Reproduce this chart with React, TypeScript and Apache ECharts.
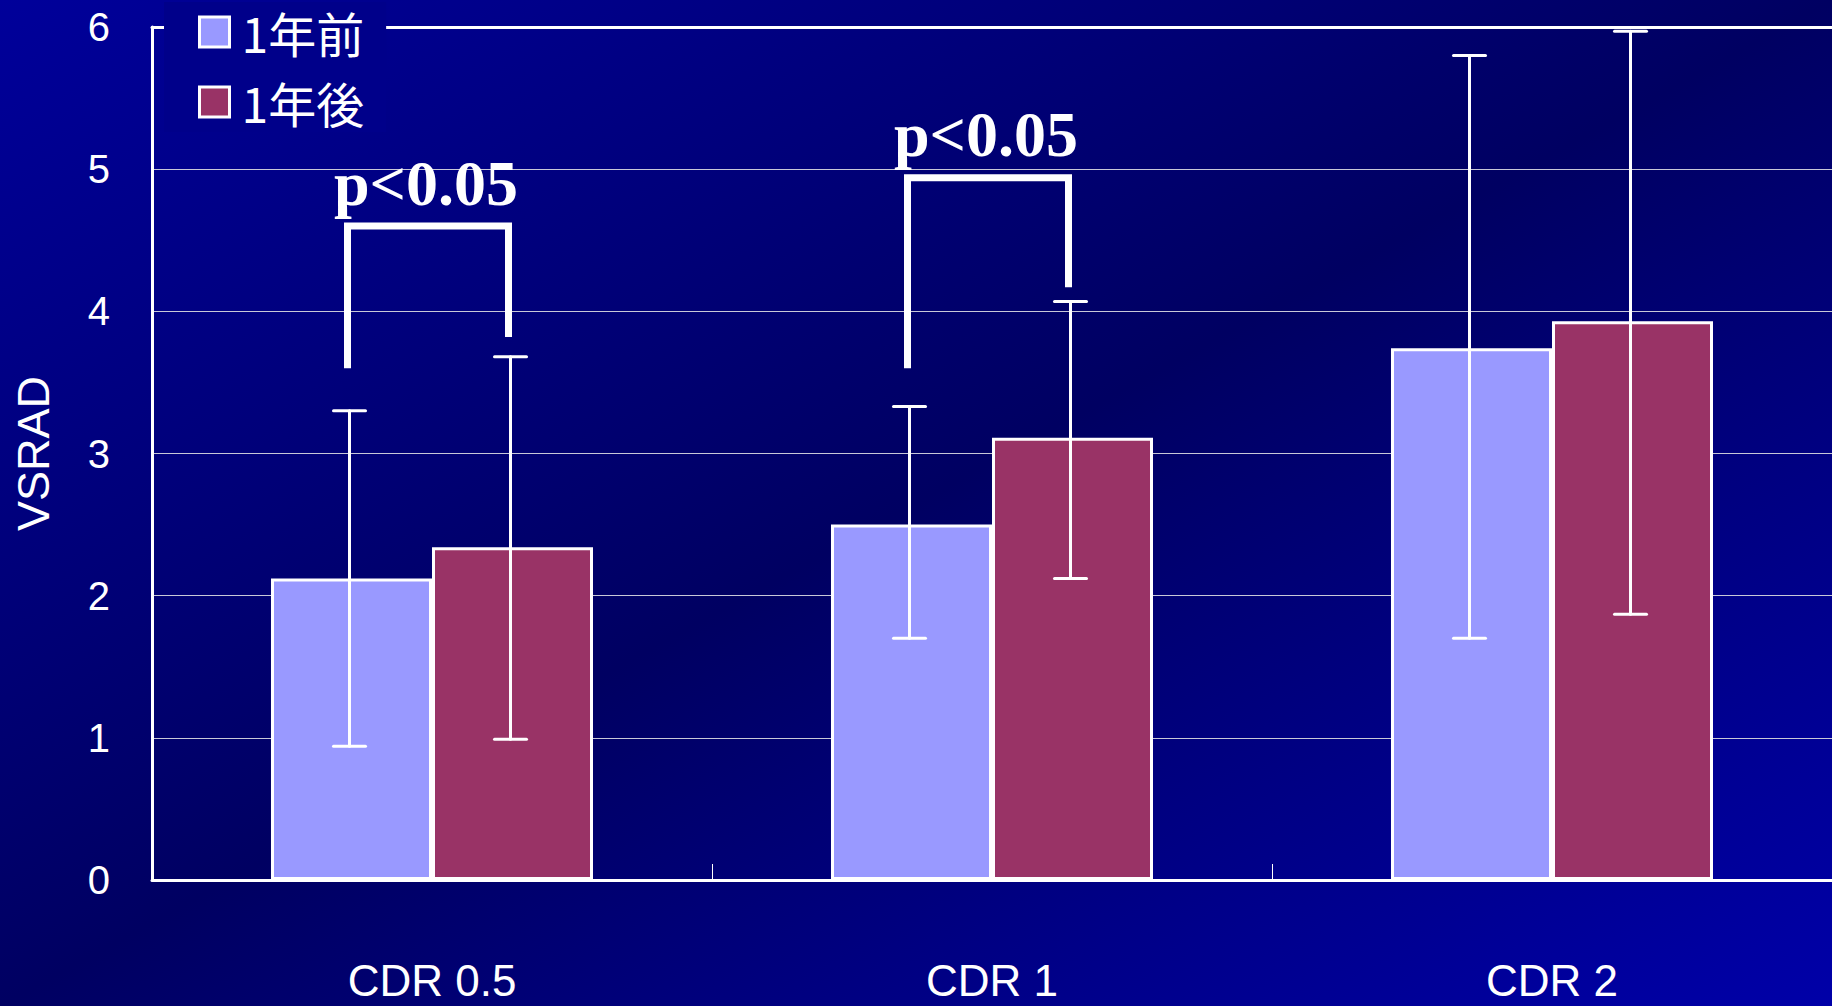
import React, { useEffect, useRef } from "react";
import * as echarts from "echarts";

const categories = ["CDR 0.5", "CDR 1", "CDR 2"];
const seriesNames = ["1年前", "1年後"];
const beforeMean = [2.12, 2.5, 3.74];
const afterMean = [2.34, 3.11, 3.93];
const beforeLow = [0.94, 1.7, 1.7];
const beforeHigh = [3.3, 3.33, 5.8];
const afterLow = [0.99, 2.12, 1.87];
const afterHigh = [3.68, 4.07, 5.97];
const yTicks = { min: 0, max: 6, interval: 1 };
// significance brackets: category index, left leg bottom, right leg bottom, top
const sigCategory = [0, 1];
const sigLeftBottom = [3.6, 3.6];
const sigRightBottom = [3.82, 4.17];
const sigTop = [4.6, 4.94];
const sigLabel = ["p<0.05", "p<0.05"];

const BAR_GAP_CAT = 0.425;
const FONT = '"Liberation Sans", Arial, sans-serif';

export default function App() {
  const ref = useRef<HTMLDivElement>(null);
  useEffect(() => {
    if (!ref.current) return;
    const chart = echarts.init(ref.current, null, { renderer: "svg" });

    const errRender = (sign: number) => (params: any, api: any) => {
      const x = api.value(0);
      const lo = api.coord([x, api.value(1)]);
      const hi = api.coord([x, api.value(2)]);
      const band = api.size([1, 0])[0];
      const barW = (band * (1 - BAR_GAP_CAT)) / 2;
      const cx = lo[0] + (sign * barW) / 2 - 2;
      const cap = 16;
      const st = { stroke: "#ffffff", lineWidth: 3, lineCap: "round" };
      return {
        type: "group",
        children: [
          { type: "line", shape: { x1: cx, y1: lo[1], x2: cx, y2: hi[1] }, style: st },
          { type: "line", shape: { x1: cx - cap, y1: hi[1], x2: cx + cap, y2: hi[1] }, style: st },
          { type: "line", shape: { x1: cx - cap, y1: lo[1], x2: cx + cap, y2: lo[1] }, style: st },
        ],
      };
    };

    const sigRender = (params: any, api: any) => {
      const x = api.value(0);
      const lb = api.coord([x, api.value(1)]);
      const rb = api.coord([x, api.value(2)]);
      const tp = api.coord([x, api.value(3)]);
      const band = api.size([1, 0])[0];
      const barW = (band * (1 - BAR_GAP_CAT)) / 2;
      const lx = lb[0] - barW / 2 - 4;
      const rx = lb[0] + barW / 2 - 4;
      return {
        type: "group",
        children: [
          {
            type: "polyline",
            shape: { points: [[lx, lb[1]], [lx, tp[1]], [rx, tp[1]], [rx, rb[1]]] },
            style: { stroke: "#ffffff", lineWidth: 7, fill: null, lineJoin: "miter", lineCap: "butt" },
          },
          {
            type: "text",
            style: {
              text: sigLabel[params.dataIndex],
              x: (lx + rx) / 2 - 2,
              y: tp[1] - 11,
              align: "center",
              verticalAlign: "bottom",
              fontSize: 64,
              fontWeight: "bold",
              fontFamily: '"Liberation Serif", "Times New Roman", serif',
              fill: "#ffffff",
            },
          },
        ],
      };
    };

    chart.setOption({
      animation: false,
      backgroundColor: new echarts.graphic.LinearGradient(0, 0, 1, 1, [
        { offset: 0, color: "#00009a" },
        { offset: 0.5, color: "#000062" },
        { offset: 1, color: "#0000a8" },
      ]),
      grid: { left: 152, right: 0, top: 27, bottom: 126 },
      legend: {
        data: seriesNames,
        orient: "vertical",
        left: 164,
        top: 2,
        padding: [2, 22, 2, 34],
        itemGap: 14,
        itemWidth: 30,
        itemHeight: 30,
        icon: "rect",
        backgroundColor: "#00008a",
        textStyle: {
          color: "#ffffff",
          fontSize: 48,
          lineHeight: 56,
          fontFamily: '"Noto Sans CJK JP", sans-serif',
          padding: [0, 0, 0, 7],
        },
        itemStyle: { borderColor: "#ffffff", borderWidth: 3 },
      },
      xAxis: [
        {
          type: "category",
          data: categories,
          axisLine: { lineStyle: { color: "#ffffff", width: 3 } },
          axisTick: { show: true, inside: true, length: 16, lineStyle: { color: "#ffffff", width: 1 } },
          axisLabel: { color: "#ffffff", fontSize: 44, lineHeight: 40, fontFamily: FONT, margin: 80 },
          splitLine: { show: false },
        },
        {
          type: "category",
          position: "top",
          data: categories,
          axisLine: { show: true, lineStyle: { color: "#ffffff", width: 3 } },
          axisTick: { show: false },
          axisLabel: { show: false },
        },
      ],
      yAxis: {
        type: "value",
        min: yTicks.min,
        max: yTicks.max,
        interval: yTicks.interval,
        name: "VSRAD",
        nameLocation: "middle",
        nameRotate: 90,
        nameGap: 96,
        nameTextStyle: { color: "#ffffff", fontSize: 45, fontFamily: FONT },
        axisLine: { show: true, lineStyle: { color: "#ffffff", width: 3 } },
        axisTick: { show: false },
        axisLabel: { color: "#ffffff", fontSize: 40, fontFamily: FONT, margin: 42 },
        splitLine: { show: true, lineStyle: { color: "#c8c8d8", width: 1 } },
      },
      series: [
        {
          name: seriesNames[0],
          type: "bar",
          data: beforeMean,
          barGap: "0%",
          barCategoryGap: BAR_GAP_CAT * 100 + "%",
          itemStyle: { color: "#9999ff", borderColor: "#ffffff", borderWidth: 3 },
        },
        {
          name: seriesNames[1],
          type: "bar",
          data: afterMean,
          barGap: "0%",
          barCategoryGap: BAR_GAP_CAT * 100 + "%",
          itemStyle: { color: "#993366", borderColor: "#ffffff", borderWidth: 3 },
        },
        {
          type: "custom",
          z: 5,
          renderItem: errRender(-1),
          data: categories.map((_, i) => [i, beforeLow[i], beforeHigh[i]]),
        },
        {
          type: "custom",
          z: 5,
          renderItem: errRender(1),
          data: categories.map((_, i) => [i, afterLow[i], afterHigh[i]]),
        },
        {
          type: "custom",
          z: 6,
          renderItem: sigRender,
          data: sigCategory.map((c, i) => [c, sigLeftBottom[i], sigRightBottom[i], sigTop[i]]),
        },
      ],
    });
    return () => chart.dispose();
  }, []);
  return <div ref={ref} style={{ position: "fixed", left: 0, top: 0, width: 1832, height: 1006 }} />;
}
